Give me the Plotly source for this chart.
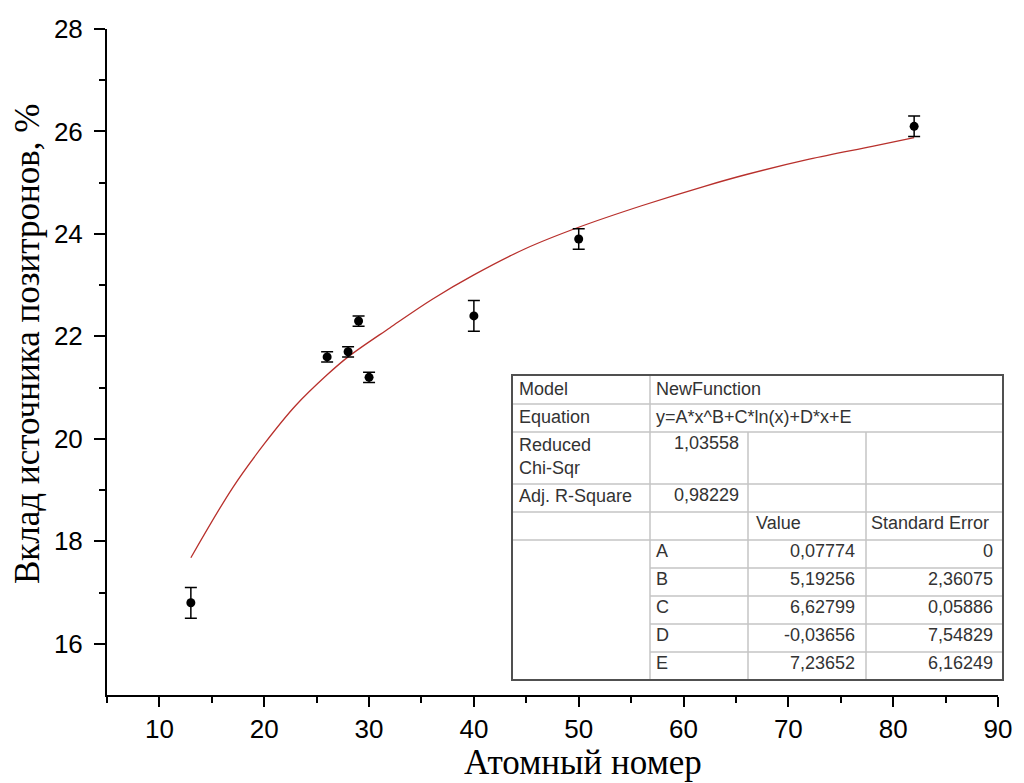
import plotly.graph_objects as go

# ---------------- data ----------------
atomic_number = [13, 26, 28, 29, 30, 40, 50, 82]
contribution = [16.8, 21.6, 21.7, 22.3, 21.2, 22.4, 23.9, 26.1]
contribution_err = [0.3, 0.1, 0.1, 0.1, 0.1, 0.3, 0.2, 0.2]

fit_x = [13, 17, 20, 23, 26, 28, 32, 36, 40, 45, 50, 56, 62, 66, 72, 78, 82]
fit_y = [17.68, 19.05, 19.9, 20.65, 21.25, 21.6, 22.17, 22.72, 23.2, 23.72,
         24.13, 24.55, 24.93, 25.16, 25.46, 25.71, 25.88]

x_ticks = [10, 20, 30, 40, 50, 60, 70, 80, 90]
y_ticks = [16, 18, 20, 22, 24, 26, 28]

x_title = "Атомный номер"
y_title = "Вклад источника позитронов, %"

table_rows = [
    ["Model", "NewFunction"],
    ["Equation", "y=A*x^B+C*ln(x)+D*x+E"],
    ["Reduced<br>Chi-Sqr", "1,03558"],
    ["Adj. R-Square", "0,98229"],
]
param_header = ["Value", "Standard Error"]
param_names = ["A", "B", "C", "D", "E"]
param_values = ["0,07774", "5,19256", "6,62799", "-0,03656", "7,23652"]
param_errors = ["0", "2,36075", "0,05886", "7,54829", "6,16249"]

# ---------------- figure ----------------
OFF = 8                      # page body margin
W, H = 1024 - OFF, 783 - OFF
PX0, PX1, PY0, PY1 = 107, 998, 29, 695   # plot area in page pixels
L, R, T, B = PX0 - OFF, (W + OFF) - PX1, PY0 - OFF, (H + OFF) - PY1


def px(x):
    return (x - PX0) / (PX1 - PX0)


def py(y):
    return (PY1 - y) / (PY1 - PY0)


fig = go.Figure()

fig.add_trace(go.Scatter(
    x=fit_x, y=fit_y, mode="lines", line=dict(color="#b8302c", width=1.3, shape="spline"),
    showlegend=False, hoverinfo="skip"))

fig.add_trace(go.Scatter(
    x=atomic_number, y=contribution, mode="markers",
    marker=dict(color="black", size=9),
    error_y=dict(type="data", array=contribution_err, color="black", thickness=1.5, width=6),
    showlegend=False))

axis_font = dict(family="Liberation Sans, Arial", size=26, color="black")
title_font = dict(family="Liberation Serif, Times New Roman", size=35, color="black")

fig.update_xaxes(
    range=[5, 90], tickvals=x_ticks, ticks="outside", ticklen=10, tickwidth=2,
    tickcolor="black", showline=True, linewidth=2, linecolor="black",
    showgrid=False, zeroline=False, tickfont=axis_font,
    minor=dict(ticks="outside", ticklen=6, tickwidth=2, tickcolor="black",
               tickvals=[5, 15, 25, 35, 45, 55, 65, 75, 85]))

fig.update_yaxes(
    range=[15, 28], tickvals=y_ticks, ticks="outside", ticklen=11, tickwidth=2,
    tickcolor="black", showline=True, linewidth=2, linecolor="black",
    showgrid=False, zeroline=False, tickfont=axis_font, ticklabelstandoff=6,
    minor=dict(ticks="outside", ticklen=6, tickwidth=2, tickcolor="black",
               tickvals=[17, 19, 21, 23, 25, 27]))

# ---------------- fit results table ----------------
tx0, tx1, ty0, ty1 = 512, 1003, 375, 680
col_x = [512, 650, 748, 866, 1003]
row_y = [375, 404, 432, 484, 512, 540, 568, 596, 624, 652, 680]
grid = dict(color="#c4c4c4", width=1.5)
shapes = []
shapes.append(dict(type="rect", xref="paper", yref="paper",
                   x0=px(tx0), x1=px(tx1), y0=py(ty1), y1=py(ty0),
                   fillcolor="white", line=dict(width=0), layer="above"))
for i, yy in enumerate(row_y[1:-1], start=1):
    xs = tx0 if i <= 5 else col_x[1]
    shapes.append(dict(type="line", xref="paper", yref="paper",
                       x0=px(xs), x1=px(tx1), y0=py(yy), y1=py(yy), line=grid, layer="above"))
shapes.append(dict(type="line", xref="paper", yref="paper",
                   x0=px(col_x[1]), x1=px(col_x[1]), y0=py(ty0), y1=py(ty1), line=grid, layer="above"))
for cx in col_x[2:4]:
    shapes.append(dict(type="line", xref="paper", yref="paper",
                       x0=px(cx), x1=px(cx), y0=py(row_y[2]), y1=py(ty1), line=grid, layer="above"))
shapes.append(dict(type="rect", xref="paper", yref="paper",
                   x0=px(tx0), x1=px(tx1), y0=py(ty1), y1=py(ty0),
                   line=dict(color="#505050", width=2), layer="above"))
fig.update_layout(shapes=shapes)

tfont = dict(family="Liberation Sans, Arial", size=18, color="#333333")
ann = []


def text(x, y, s, anchor="left"):
    ann.append(dict(xref="paper", yref="paper", x=px(x), y=py(y), text=s,
                    showarrow=False, xanchor=anchor, yanchor="middle", font=tfont,
                    align="left", xshift=-2 if anchor == "left" else 2))


label_y = [389, 417, 457, 496]
for (lab, val), yy in zip(table_rows, label_y):
    text(519, yy, lab)
text(656, 389, table_rows[0][1])
text(656, 417, table_rows[1][1])
text(739, 443, table_rows[2][1], "right")
text(739, 495, table_rows[3][1], "right")
text(756, 523, param_header[0])
text(871, 523, param_header[1])
param_y = [551, 579, 607, 635, 663]
for n, v, e, yy in zip(param_names, param_values, param_errors, param_y):
    text(656, yy, n)
    text(855, yy, v, "right")
    text(993, yy, e, "right")

# axis titles
ann.append(dict(xref="paper", yref="paper", x=px(583), y=py(762), text=x_title,
                showarrow=False, xanchor="center", yanchor="middle", font=title_font))
ann.append(dict(xref="paper", yref="paper", x=px(27), y=py(344), text=y_title,
                showarrow=False, xanchor="center", yanchor="middle", font=title_font,
                textangle=-90))
fig.update_layout(annotations=ann)

fig.update_layout(
    width=W, height=H, margin=dict(l=L, r=R, t=T, b=B, autoexpand=False),
    plot_bgcolor="white", paper_bgcolor="white")

fig.write_html("out.html")
